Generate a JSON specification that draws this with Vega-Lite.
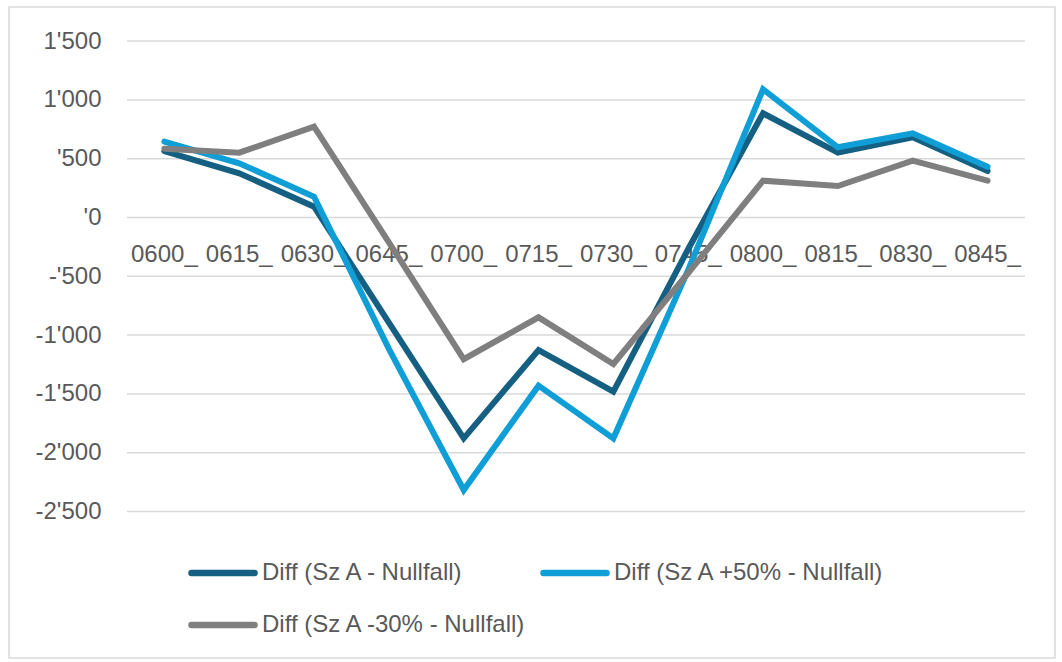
{
  "$schema": "https://vega.github.io/schema/vega-lite/v6.json",
  "width": 1046,
  "height": 651,
  "autosize": {"type": "none"},
  "padding": {"left": 9, "top": 7, "right": 7, "bottom": 4},
  "background": "white",
  "config": {
    "font": "Liberation Sans",
    "view": {"stroke": "#d9d9d9", "strokeWidth": 1.5},
    "axisX": {
      "orient": "bottom",
      "offset": -440.5,
      "domain": false,
      "ticks": false,
      "grid": false,
      "labelAngle": 0,
      "labelOverlap": false,
      "labelBaseline": "alphabetic",
      "labelPadding": 44,
      "labelFontSize": 24,
      "labelColor": "#595959"
    },
    "axisY": {
      "orient": "left",
      "offset": -118,
      "domain": false,
      "ticks": false,
      "grid": false,
      "labelPadding": 26,
      "labelFontSize": 24,
      "labelColor": "#595959"
    }
  },
  "datasets": {
    "gridlines": [
      {"value": -2500}, {"value": -2000}, {"value": -1500}, {"value": -1000}, {"value": -500},
      {"value": 0}, {"value": 500}, {"value": 1000}, {"value": 1500}
    ],
    "series": [
      {"time": "0600_", "series": "Diff (Sz A - Nullfall)", "value": 565},
      {"time": "0615_", "series": "Diff (Sz A - Nullfall)", "value": 376},
      {"time": "0630_", "series": "Diff (Sz A - Nullfall)", "value": 92},
      {"time": "0645_", "series": "Diff (Sz A - Nullfall)", "value": -894},
      {"time": "0700_", "series": "Diff (Sz A - Nullfall)", "value": -1878},
      {"time": "0715_", "series": "Diff (Sz A - Nullfall)", "value": -1127},
      {"time": "0730_", "series": "Diff (Sz A - Nullfall)", "value": -1481},
      {"time": "0745_", "series": "Diff (Sz A - Nullfall)", "value": -268},
      {"time": "0800_", "series": "Diff (Sz A - Nullfall)", "value": 886},
      {"time": "0815_", "series": "Diff (Sz A - Nullfall)", "value": 551},
      {"time": "0830_", "series": "Diff (Sz A - Nullfall)", "value": 682},
      {"time": "0845_", "series": "Diff (Sz A - Nullfall)", "value": 395},
      {"time": "0600_", "series": "Diff (Sz A +50% - Nullfall)", "value": 645},
      {"time": "0615_", "series": "Diff (Sz A +50% - Nullfall)", "value": 461},
      {"time": "0630_", "series": "Diff (Sz A +50% - Nullfall)", "value": 177},
      {"time": "0645_", "series": "Diff (Sz A +50% - Nullfall)", "value": -1117},
      {"time": "0700_", "series": "Diff (Sz A +50% - Nullfall)", "value": -2317},
      {"time": "0715_", "series": "Diff (Sz A +50% - Nullfall)", "value": -1430},
      {"time": "0730_", "series": "Diff (Sz A +50% - Nullfall)", "value": -1878},
      {"time": "0745_", "series": "Diff (Sz A +50% - Nullfall)", "value": -446},
      {"time": "0800_", "series": "Diff (Sz A +50% - Nullfall)", "value": 1090},
      {"time": "0815_", "series": "Diff (Sz A +50% - Nullfall)", "value": 597},
      {"time": "0830_", "series": "Diff (Sz A +50% - Nullfall)", "value": 716},
      {"time": "0845_", "series": "Diff (Sz A +50% - Nullfall)", "value": 432},
      {"time": "0600_", "series": "Diff (Sz A -30% - Nullfall)", "value": 585},
      {"time": "0615_", "series": "Diff (Sz A -30% - Nullfall)", "value": 551},
      {"time": "0630_", "series": "Diff (Sz A -30% - Nullfall)", "value": 772},
      {"time": "0645_", "series": "Diff (Sz A -30% - Nullfall)", "value": -211},
      {"time": "0700_", "series": "Diff (Sz A -30% - Nullfall)", "value": -1205},
      {"time": "0715_", "series": "Diff (Sz A -30% - Nullfall)", "value": -849},
      {"time": "0730_", "series": "Diff (Sz A -30% - Nullfall)", "value": -1246},
      {"time": "0745_", "series": "Diff (Sz A -30% - Nullfall)", "value": -472},
      {"time": "0800_", "series": "Diff (Sz A -30% - Nullfall)", "value": 313},
      {"time": "0815_", "series": "Diff (Sz A -30% - Nullfall)", "value": 268},
      {"time": "0830_", "series": "Diff (Sz A -30% - Nullfall)", "value": 483},
      {"time": "0845_", "series": "Diff (Sz A -30% - Nullfall)", "value": 313}
    ]
  },
  "layer": [
    {
      "data": {"name": "gridlines"},
      "mark": {"type": "rule", "stroke": "#d9d9d9", "strokeWidth": 1.5},
      "encoding": {
        "x": {"datum": "0600_", "type": "ordinal", "bandPosition": 0},
        "x2": {"datum": "0845_", "bandPosition": 1},
        "y": {"field": "value", "type": "quantitative"}
      }
    },
    {
      "data": {"name": "series"},
      "mark": {"type": "line", "strokeWidth": 6, "strokeJoin": "miter", "strokeCap": "round"},
      "encoding": {
        "x": {
          "field": "time",
          "type": "ordinal",
          "bandPosition": 0.5,
          "scale": {"type": "band", "paddingInner": 0, "paddingOuter": 0.989, "align": 0.797},
          "axis": {"title": null}
        },
        "y": {
          "field": "value",
          "type": "quantitative",
          "scale": {"domain": [-3746, 1790], "nice": false, "zero": false},
          "axis": {
            "title": null,
            "values": [-2500, -2000, -1500, -1000, -500, 0, 500, 1000, 1500],
            "labelExpr": "(datum.value < 0 ? '-' : '') + (abs(datum.value) >= 1000 ? floor(abs(datum.value) / 1000) + \"'\" + format(abs(datum.value) % 1000, '03d') : \"'\" + abs(datum.value))"
          }
        },
        "color": {
          "field": "series",
          "type": "nominal",
          "scale": {
            "domain": ["Diff (Sz A - Nullfall)", "Diff (Sz A +50% - Nullfall)", "Diff (Sz A -30% - Nullfall)"],
            "range": ["#156082", "#0F9ED5", "#7F7F7F"]
          },
          "legend": {
            "title": null,
            "orient": "none",
            "legendX": 179,
            "legendY": 531,
            "direction": "horizontal",
            "columns": 2,
            "symbolType": "stroke",
            "symbolSize": 3969,
            "symbolStrokeWidth": 6.5,
            "labelFontSize": 24,
            "labelColor": "#595959",
            "labelOffset": 4,
            "labelLimit": 400,
            "columnPadding": 3,
            "rowPadding": 4,
            "encode": {"symbols": {"update": {"strokeCap": {"value": "round"}}}}
          }
        }
      }
    }
  ]
}
